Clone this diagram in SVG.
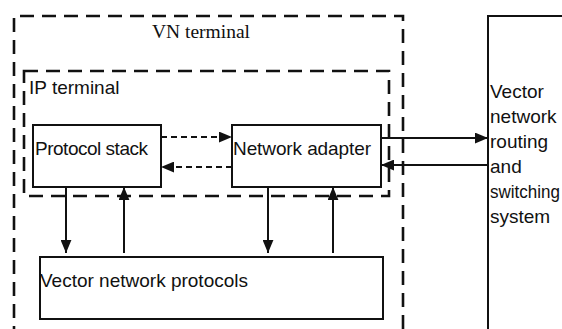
<svg xmlns="http://www.w3.org/2000/svg" width="562" height="329" viewBox="0 0 562 329">
<style>
.sans{font-family:"Liberation Sans",Arial,sans-serif;font-size:19px;fill:#111}
.serif{font-family:"Liberation Serif","Times New Roman",serif;font-size:19.5px;fill:#111}
.box{fill:#fff;stroke:#111;stroke-width:2}
.group{fill:none;stroke:#111;stroke-width:2.6;stroke-dasharray:14 8}
.line{stroke:#111;stroke-width:2;fill:none}
.dash{stroke:#111;stroke-width:2;fill:none;stroke-dasharray:6 4}
</style>
<defs>
<marker id="ah" viewBox="0 0 12 10" refX="12" refY="5" markerWidth="13" markerHeight="11" markerUnits="userSpaceOnUse" orient="auto">
<path d="M0,0 L12,5 L0,10 Z" fill="#111"/>
</marker>
</defs>
<rect width="562" height="329" fill="#fff"/>
<g id="vn-terminal">
<path class="group" d="M14,340 V16 H403 V340"/>
<text class="serif" x="201" y="37.5" text-anchor="middle">VN terminal</text>
</g>
<g id="ip-terminal">
<rect class="group" x="24" y="71" width="365" height="125"/>
<text class="sans" x="29" y="94">IP terminal</text>
</g>
<g id="protocol-stack">
<rect class="box" x="33" y="125" width="128" height="62"/>
<text class="sans" x="35" y="155" textLength="113">Protocol stack</text>
</g>
<g id="network-adapter">
<rect class="box" x="232" y="125" width="149" height="62"/>
<text class="sans" x="233" y="155" textLength="138">Network adapter</text>
</g>
<g id="vector-network-protocols">
<rect class="box" x="40" y="257" width="343" height="62"/>
<text class="sans" x="40" y="287" textLength="208">Vector network protocols</text>
</g>
<g id="routing-system">
<path class="box" d="M564,16 H488 V335" fill="none"/>
<text class="sans" x="490" y="98">Vector</text>
<text class="sans" x="490" y="123">network</text>
<text class="sans" x="490" y="148">routing</text>
<text class="sans" x="490" y="173">and</text>
<text class="sans" x="490" y="198" textLength="70" lengthAdjust="spacingAndGlyphs">switching</text>
<text class="sans" x="490" y="223">system</text>
</g>
<g id="connectors">
<line class="dash" x1="161" y1="137" x2="232" y2="137" marker-end="url(#ah)"/>
<line class="dash" x1="232" y1="167" x2="161" y2="167" marker-end="url(#ah)"/>
<line class="line" x1="381" y1="138" x2="488" y2="138" marker-end="url(#ah)"/>
<line class="line" x1="488" y1="165" x2="381" y2="165" marker-end="url(#ah)"/>
<line class="line" x1="66" y1="187" x2="66" y2="253" marker-end="url(#ah)"/>
<line class="line" x1="124" y1="253" x2="124" y2="187" marker-end="url(#ah)"/>
<line class="line" x1="268" y1="187" x2="268" y2="253" marker-end="url(#ah)"/>
<line class="line" x1="333" y1="253" x2="333" y2="187" marker-end="url(#ah)"/>
</g>
</svg>
